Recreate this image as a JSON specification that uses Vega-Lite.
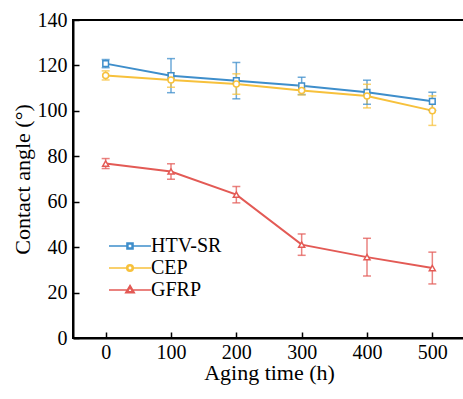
{
  "$schema": "https://vega.github.io/schema/vega-lite/v6.json",
  "width": 392,
  "height": 318,
  "autosize": {"type": "none"},
  "padding": {"left": 73, "top": 20, "right": 0, "bottom": 61},
  "background": "white",
  "config": {
    "view": {"stroke": "black", "strokeWidth": 2},
    "font": "Liberation Serif",
    "axis": {
      "domainColor": "black", "domainWidth": 2,
      "tickColor": "black", "tickWidth": 1.5,
      "labelFont": "Liberation Serif", "labelFontSize": 20, "labelColor": "black",
      "titleFont": "Liberation Serif", "titleFontSize": 22, "titleFontWeight": "normal", "titleColor": "black",
      "grid": false
    }
  },
  "data": {"values": [
    {"series": "HTV-SR", "time": 0, "value": 120.8, "lo": 119.0, "hi": 122.6},
    {"series": "HTV-SR", "time": 100, "value": 115.5, "lo": 108.0, "hi": 123.0},
    {"series": "HTV-SR", "time": 200, "value": 113.3, "lo": 105.3, "hi": 121.3},
    {"series": "HTV-SR", "time": 300, "value": 111.0, "lo": 107.2, "hi": 114.8},
    {"series": "HTV-SR", "time": 400, "value": 108.2, "lo": 102.9, "hi": 113.5},
    {"series": "HTV-SR", "time": 500, "value": 104.2, "lo": 100.2, "hi": 108.2},
    {"series": "CEP", "time": 0, "value": 115.6, "lo": 113.6, "hi": 117.6},
    {"series": "CEP", "time": 100, "value": 113.6, "lo": 110.4, "hi": 116.8},
    {"series": "CEP", "time": 200, "value": 111.8, "lo": 107.3, "hi": 116.3},
    {"series": "CEP", "time": 300, "value": 109.0, "lo": 107.0, "hi": 111.0},
    {"series": "CEP", "time": 400, "value": 106.5, "lo": 101.3, "hi": 111.7},
    {"series": "CEP", "time": 500, "value": 100.1, "lo": 93.6, "hi": 106.6},
    {"series": "GFRP", "time": 0, "value": 76.8, "lo": 74.6, "hi": 79.0},
    {"series": "GFRP", "time": 100, "value": 73.3, "lo": 69.9, "hi": 76.7},
    {"series": "GFRP", "time": 200, "value": 63.1, "lo": 59.5, "hi": 66.7},
    {"series": "GFRP", "time": 300, "value": 41.1, "lo": 36.4, "hi": 45.8},
    {"series": "GFRP", "time": 400, "value": 35.6, "lo": 27.3, "hi": 43.9},
    {"series": "GFRP", "time": 500, "value": 30.8, "lo": 23.8, "hi": 37.8}
  ]},
  "encoding": {
    "x": {
      "field": "time", "type": "quantitative",
      "scale": {"domain": [-50, 550], "nice": false, "zero": false},
      "axis": {"values": [0, 100, 200, 300, 400, 500], "tickSize": -6, "labelPadding": 10, "title": "Aging time (h)", "titlePadding": 0}
    },
    "color": {
      "field": "series", "type": "nominal",
      "scale": {"domain": ["HTV-SR", "CEP", "GFRP"], "range": ["#3e8ecb", "#f7c13c", "#e35a55"]}
    }
  },
  "layer": [
    {
      "mark": {"type": "line", "strokeWidth": 2},
      "encoding": {
        "y": {
          "field": "value", "type": "quantitative",
          "scale": {"domain": [0, 140], "nice": false},
          "axis": {
            "values": [0, 10, 20, 30, 40, 50, 60, 70, 80, 90, 100, 110, 120, 130, 140],
            "labelExpr": "datum.value % 20 === 0 ? datum.label : ''",
            "tickSize": {"condition": {"test": "datum.value % 20 === 0", "value": -6}, "value": -3},
            "labelPadding": 12,
            "title": "Contact angle (°)",
            "titlePadding": 3
          }
        },
        "color": {
          "field": "series", "type": "nominal",
          "scale": {"domain": ["HTV-SR", "CEP", "GFRP"], "range": ["#3e8ecb", "#f7c13c", "#e35a55"]},
          "legend": {
            "title": null,
            "orient": "none",
            "legendX": 47,
            "legendY": 216,
            "padding": 0,
            "labelFont": "Liberation Serif",
            "labelFontSize": 20,
            "labelColor": "black",
            "symbolSize": 100,
            "symbolStrokeWidth": 1.6,
            "symbolFillColor": "white",
            "labelOffset": 11,
            "rowPadding": 2,
            "encode": {
              "symbols": {
                "update": {
                  "shape": {"signal": "datum.value === 'HTV-SR' ? 'M-4.2,0H-0.6M0.6,0H4.2M-0.6,-0.6H0.6V0.6H-0.6ZM-0.42,-0.42V0.42H0.42V-0.42Z' : datum.value === 'CEP' ? 'M-4.2,0H-0.65M0.65,0H4.2M0.65,0A0.65,0.65 0 1,1 -0.65,0A0.65,0.65 0 1,1 0.65,0ZM0.45,0A0.45,0.45 0 1,0 -0.45,0A0.45,0.45 0 1,0 0.45,0Z' : 'M-4.2,0H-0.5M0.5,0H4.2M0,-0.9L0.85,0.55H-0.85ZM0,-0.55L-0.55,0.35H0.55Z'"},
                  "fill": {"value": "white"},
                  "strokeWidth": {"value": 1.6}
                }
              }
            }
          }
        }
      }
    },
    {
      "mark": {"type": "rule", "strokeWidth": 1.5, "opacity": 0.75},
      "encoding": {
        "y": {"field": "lo", "type": "quantitative"},
        "y2": {"field": "hi"}
      }
    },
    {
      "mark": {"type": "tick", "orient": "horizontal", "size": 8, "thickness": 1.5, "opacity": 0.75},
      "encoding": {"y": {"field": "lo", "type": "quantitative"}}
    },
    {
      "mark": {"type": "tick", "orient": "horizontal", "size": 8, "thickness": 1.5, "opacity": 0.75},
      "encoding": {"y": {"field": "hi", "type": "quantitative"}}
    },
    {
      "transform": [{"filter": "datum.series === 'HTV-SR'"}],
      "mark": {"type": "point", "shape": "square", "filled": false, "fill": "white", "size": 32, "strokeWidth": 1.5, "opacity": 1},
      "encoding": {"y": {"field": "value", "type": "quantitative"}}
    },
    {
      "transform": [{"filter": "datum.series === 'CEP'"}],
      "mark": {"type": "point", "shape": "circle", "filled": false, "fill": "white", "size": 36, "strokeWidth": 1.5, "opacity": 1},
      "encoding": {"y": {"field": "value", "type": "quantitative"}}
    },
    {
      "transform": [{"filter": "datum.series === 'GFRP'"}],
      "mark": {"type": "point", "shape": "triangle-up", "filled": false, "fill": "white", "size": 36, "strokeWidth": 1.5, "opacity": 1},
      "encoding": {"y": {"field": "value", "type": "quantitative"}}
    }
  ]
}
